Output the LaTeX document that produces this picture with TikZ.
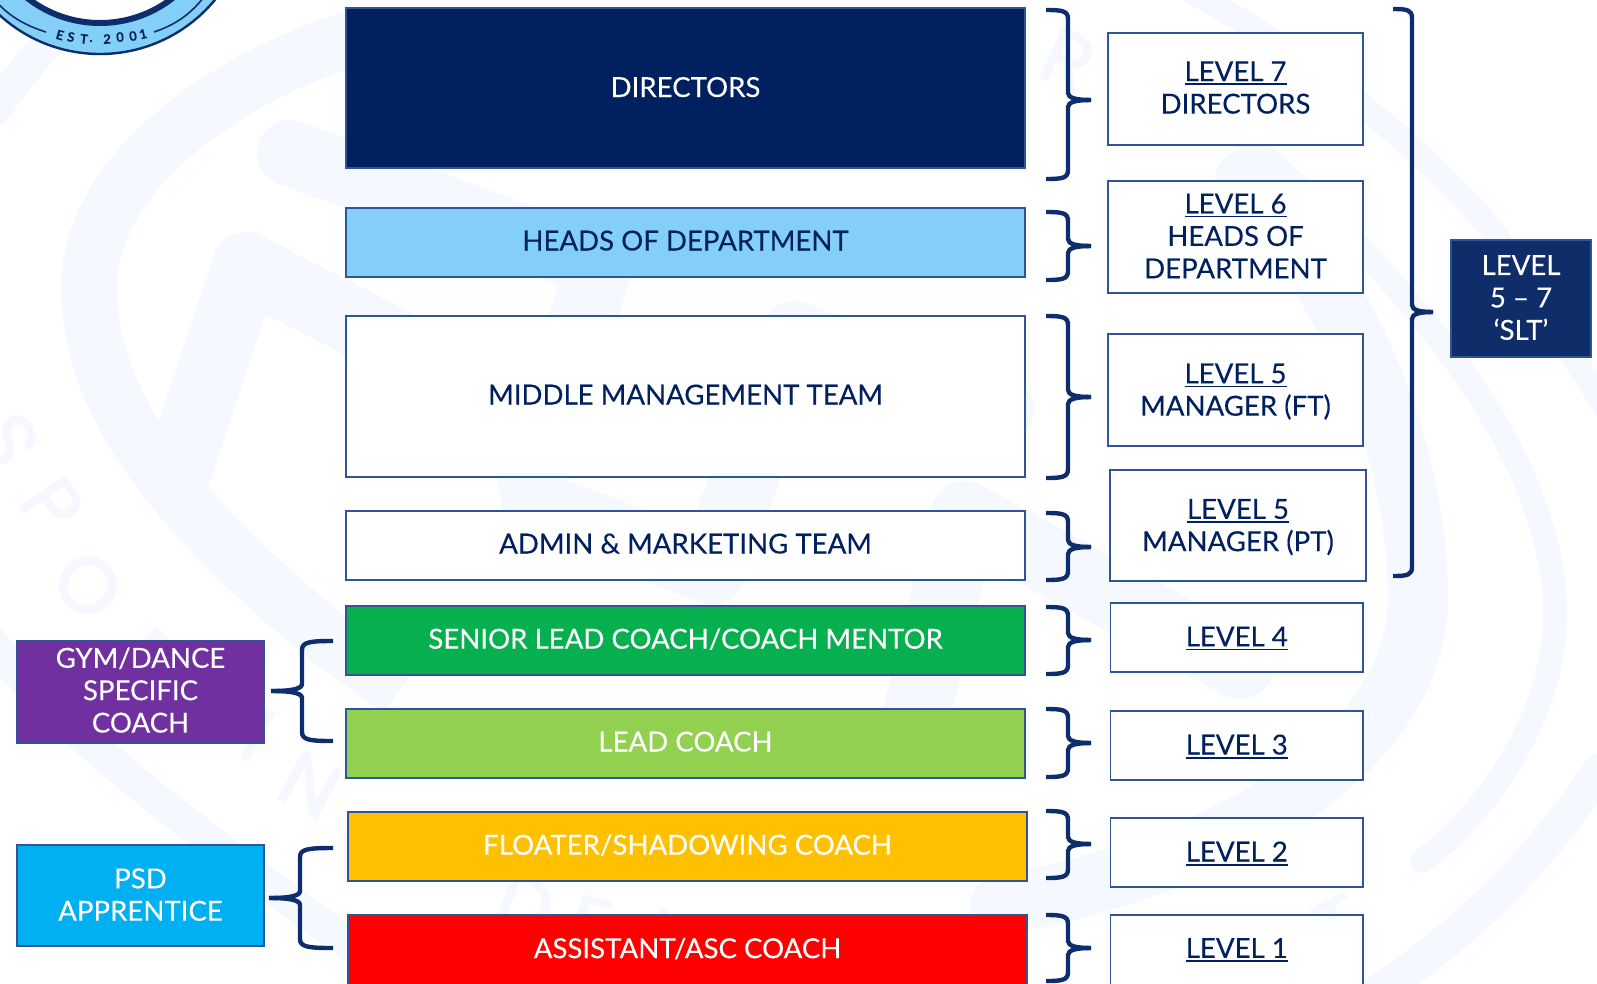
\documentclass[tikz,border=0pt]{standalone}
\usepackage{fontspec}
\setmainfont{Lato}[FakeBold=0.2]
\newfontfamily\wmfont{Poppins}[FakeBold=2.5]
\usetikzlibrary{calc}
\definecolor{navy}{HTML}{002060}
\definecolor{edgeblue}{HTML}{2F5597}
\definecolor{bracecol}{HTML}{0E2D6C}
\definecolor{sltblue}{HTML}{0F2D69}
\definecolor{skyfill}{HTML}{83CFF7}
\definecolor{greenfill}{HTML}{07B04F}
\definecolor{limefill}{HTML}{92D050}
\definecolor{amberfill}{HTML}{FFC000}
\definecolor{purplefill}{HTML}{7030A0}
\definecolor{cyanfill}{HTML}{00B0F0}
\definecolor{pale}{HTML}{F5F8FE}
\newcommand{\ulx}[1]{\setbox0\hbox{#1}\leavevmode\rlap{\smash{\rule[-4pt]{\wd0}{1.7pt}}}\box0 }
\newcommand{\up}[1]{\raisebox{4pt}{#1}}
\newcommand{\lift}[1]{\rule[-#1]{0pt}{#1}}
\tikzset{
  txt/.style={font=\fontsize{27.6}{32.4}\selectfont, align=center, inner sep=0pt, outer sep=0pt, draw=edgeblue, line width=1.7pt},
  darktxt/.style={txt, fill=white, text=navy},
  lighttxt/.style={txt, text=white},
  bracestroke/.style={draw=bracecol, line width=4.4pt, line cap=butt, line join=round},
  wm/.style={draw=pale, line cap=round, line join=round},
  wmletter/.style={text=pale, font=\wmfont\fontsize{78}{78}\selectfont, inner sep=0pt},
  logotext/.style={text=navy, font=\fontsize{13}{13}\selectfont\bfseries, inner sep=0pt}
}
\newcommand{\boxat}[7]{%
  \pgfmathsetlengthmacro{\bw}{#4-#2}\pgfmathsetlengthmacro{\bh}{#5-#3}%
  \node[#6, minimum width=\bw, minimum height=\bh] (#1) at ({(#2+#4)/2},{(#3+#5)/2}) {#7};}
\newcommand{\bracket}[6]{%
  \pgfmathsetmacro{\ca}{#1+0.75*(#2-#1)}%
  \pgfmathsetmacro{\cb}{#2+0.35*(#3-#2)}%
  \draw[bracestroke] (#1,#4) .. controls (\ca,#4) and (#2,#4+1) .. (#2,#4+9)
    -- (#2,#5-7) .. controls (#2,#5-2) and (\cb,#5) .. (#3,#5);
  \draw[bracestroke] (#1,#6) .. controls (\ca,#6) and (#2,#6-1) .. (#2,#6-9)
    -- (#2,#5+7) .. controls (#2,#5+2) and (\cb,#5) .. (#3,#5);}
\begin{document}
\begin{tikzpicture}[x=1pt,y=-1pt]
\useasboundingbox (0,0) rectangle (1597,983);
\clip (0,0) rectangle (1597,983);
% pale watermark
\draw[wm,line width=32pt] (75,15) .. controls (40,50) and (15,80) .. (-5,110);
\draw[wm,line width=32pt] (-10,640) .. controls (60,730) and (180,820) .. (350,945) -- (420,1000);
\draw[wm,line width=34pt] (1380,990) .. controls (1470,930) and (1540,860) .. (1600,770);
\draw[wm,line width=56pt,line cap=butt] (360,36) .. controls (230,75) and (89,170) .. (89,288)
   .. controls (89,400) and (170,510) .. (330,640) -- (400,690);
\draw[wm,line width=68pt] (560,428) -- (246,266) -- (180,465);
\draw[wm,line width=66pt] (290,153) -- (600,265) -- (530,480);
\draw[wm,line width=68pt] (535,505) -- (712,570) -- (795,335) -- (1000,410);
\draw[wm,line width=68pt] (965,515) -- (1240,665);
\draw[wm,line width=68pt] (965,515) -- (915,720);
\draw[wm,line width=60pt] (1245,180) .. controls (1350,290) and (1418,450) .. (1418,598)
   .. controls (1418,740) and (1250,860) .. (1000,905);
\draw[wm,line width=24pt] (1140,50) .. controls (1300,180) and (1555,400) .. (1555,615)
   .. controls (1555,720) and (1480,820) .. (1422,861);
\draw[wm,line width=24pt] (1180,-15) .. controls (1300,50) and (1430,150) .. (1498,238)
   -- (1610,415);
\node[wmletter,rotate=-62] (wS) at (8,440) {S};
\node[wmletter,rotate=-55] (wP) at (52,505) {P};
\node[wmletter,rotate=-48] (wO) at (88,585) {O};
\node[wmletter,rotate=-43] (wR) at (150,660) {R};
\node[wmletter,rotate=-30] (wI) at (258,735) {I};
\node[wmletter,rotate=-28] (wN) at (310,785) {N};
\node[wmletter,rotate=-20] (wD) at (525,905) {D};
\node[wmletter,rotate=-15] (wE) at (590,925) {E};
\node[wmletter,rotate=-8] (wV) at (680,940) {V};
\node[wmletter,rotate=28] (wT) at (1340,925) {T};
\node[wmletter,rotate=-25] (wRt) at (1068,60) {R};
% logo
\fill[skyfill,draw=bracecol,line width=2.4pt] (100,-95) circle (149);
\draw[draw=bracecol,line width=1.6pt] (46,32) .. controls (20,24) and (5,12) .. (-5,0);
\draw[draw=bracecol,line width=1.6pt] (154,32) .. controls (178,24) and (192,12) .. (204,-3);
\fill[white,draw=bracecol,line width=6pt] (100,-95) circle (118);
\node[logotext,rotate=-15] (lE) at (60,35) {E};
\node[logotext,rotate=-11] (lS) at (71,37) {S};
\node[logotext,rotate=-7] (lT) at (84,39) {T};
\node[logotext,rotate=-3] (lD) at (91,41) {.};
\node[logotext,rotate=2] (l2t) at (107,39) {2};
\node[logotext,rotate=6] (l0a) at (120,37) {0};
\node[logotext,rotate=10] (l0b) at (133,36) {0};
\node[logotext,rotate=14] (l1t) at (143,34) {1};
% centre column
\boxat{dir}{346}{8}{1025}{168}{lighttxt,fill=navy}{\raisebox{2pt}{DIRECTORS}}
\boxat{hod}{346}{208}{1025}{277}{darktxt,fill=skyfill}{\up{HEADS OF DEPARTMENT}}
\boxat{mmt}{346}{316}{1025}{477}{darktxt}{\up{MIDDLE MANAGEMENT TEAM}}
\boxat{adm}{346}{511}{1025}{580}{darktxt}{\up{ADMIN \& MARKETING TEAM}}
\boxat{slc}{346}{606}{1025}{675}{lighttxt,fill=greenfill}{\up{SENIOR LEAD COACH/COACH MENTOR}}
\boxat{lc}{346}{709}{1025}{778}{lighttxt,fill=limefill}{\up{LEAD COACH}}
\boxat{flo}{348}{812}{1027}{881}{lighttxt,fill=amberfill}{\up{FLOATER/SHADOWING COACH}}
\boxat{asc}{348}{915}{1027}{995}{lighttxt,fill=red}{\raisebox{14pt}{ASSISTANT/ASC COACH}}
% right column
\boxat{l7}{1108}{33}{1363}{145}{darktxt}{\ulx{LEVEL 7}\\DIRECTORS\lift{3pt}}
\boxat{l6}{1108}{181}{1363}{293}{darktxt}{\ulx{LEVEL 6}\\HEADS OF\\DEPARTMENT\lift{2pt}}
\boxat{l5a}{1108}{334}{1363}{446}{darktxt}{\rule{0pt}{23pt}\ulx{LEVEL 5}\\MANAGER (FT)}
\boxat{l5b}{1110}{470}{1366}{581}{darktxt}{\rule{0pt}{23pt}\ulx{LEVEL 5}\\MANAGER (PT)}
\boxat{l4}{1110.5}{603}{1363}{672}{darktxt}{\ulx{LEVEL 4}\lift{2pt}}
\boxat{l3}{1110.5}{711}{1363}{780}{darktxt}{\ulx{LEVEL 3}\lift{2pt}}
\boxat{l2}{1110.5}{818}{1363}{887}{darktxt}{\ulx{LEVEL 2}\lift{2pt}}
\boxat{l1}{1110.5}{915}{1363}{995}{darktxt}{\raisebox{14pt}{\ulx{LEVEL 1}}}
\boxat{slt}{1451}{240}{1591}{357}{lighttxt,fill=sltblue}{LEVEL\\5 – 7\\‘SLT’\lift{2pt}}
% left column
\boxat{gym}{17}{641}{264}{743}{lighttxt,fill=purplefill}{GYM/DANCE\\SPECIFIC\\COACH\lift{4pt}}
\boxat{psd}{17}{845}{264}{946}{lighttxt,fill=cyanfill}{PSD\\APPRENTICE\lift{2pt}}
% brackets
\bracket{1046}{1068}{1091}{10}{100}{179}
\bracket{1046}{1068}{1091}{212}{246}{280}
\bracket{1046}{1068}{1091}{316}{397}{478}
\bracket{1046}{1068}{1091}{513}{547}{580}
\bracket{1046}{1068}{1091}{607}{640}{674}
\bracket{1046}{1068}{1091}{709}{743}{777}
\bracket{1046}{1068}{1091}{811}{844}{878}
\bracket{1046}{1068}{1091}{915}{948}{981}
\bracket{1393}{1412}{1433}{9}{312}{576}
\bracket{333}{302}{271}{641}{691}{741}
\bracket{333}{300}{269}{848}{898}{948}
\end{tikzpicture}
\end{document}
